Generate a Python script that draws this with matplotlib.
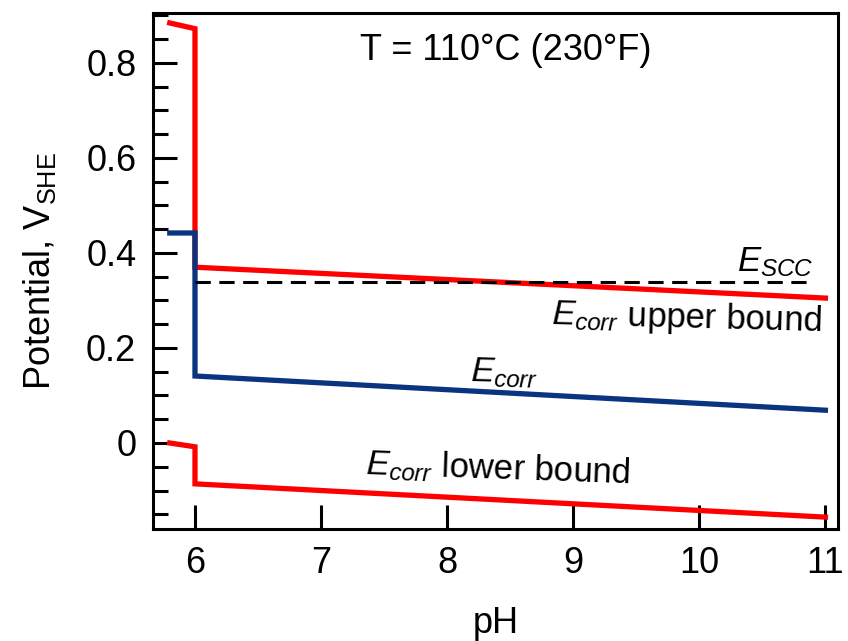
import numpy as np
import matplotlib
matplotlib.use('Agg')
import matplotlib.pyplot as plt
from matplotlib.ticker import MultipleLocator

plt.rcParams['font.family'] = ['Liberation Sans', 'DejaVu Sans']
plt.rcParams['mathtext.fontset'] = 'custom'
plt.rcParams['mathtext.rm'] = 'Liberation Sans'
plt.rcParams['mathtext.it'] = 'Liberation Sans:italic'

# Data
upper_ph = [5.8, 6.0, 6.0, 11.0]
upper_e = [0.884, 0.872, 0.370, 0.305]
ecorr_ph = [5.8, 6.0, 6.0, 11.0]
ecorr_e = [0.442, 0.442, 0.141, 0.069]
lower_ph = [5.8, 6.0, 6.0, 11.0]
lower_e = [0.0, -0.008, -0.086, -0.156]
escc_ph = [6.0, 10.87]
escc_e = [0.339, 0.339]

fig = plt.figure(figsize=(8.48, 6.41), dpi=100)
ax = fig.add_axes([153/848, 112/641, 685/848, 516/641])

red = '#ff0000'
blue = '#0a3380'
ax.plot(upper_ph, upper_e, color=red, lw=3.8, solid_joinstyle='miter')
ax.plot(ecorr_ph, ecorr_e, color=blue, lw=3.8, solid_joinstyle='miter')
ax.plot(lower_ph, lower_e, color=red, lw=3.8, solid_joinstyle='miter')
ax.plot(escc_ph, escc_e, color='black', lw=2.2, dashes=(5, 2.8))

ax.set_xlim(5.667, 11.10)
ax.set_ylim(-0.181, 0.905)

ax.xaxis.set_major_locator(MultipleLocator(1))
ax.yaxis.set_major_locator(MultipleLocator(0.2))
ax.yaxis.set_minor_locator(MultipleLocator(0.05))
ax.yaxis.set_major_formatter(plt.FuncFormatter(lambda v, p: '0' if abs(v) < 1e-9 else f'{v:.1f}'))

for s in ax.spines.values():
    s.set_linewidth(2.2)
ax.tick_params(axis='both', which='major', direction='in', length=17, width=2.2,
               labelsize=26, pad=12)
ax.tick_params(axis='y', which='minor', direction='in', length=11, width=2.2)
ax.tick_params(top=False, right=False)

ax.set_xlabel('pH', fontsize=26, labelpad=18)
ax.set_ylabel(r'Potential, V$_{\mathrm{SHE}}$', fontsize=26, labelpad=20)

fig.text(506/848, 1 - 51/641, 'T = 110°C (230°F)',
         ha='center', va='center', fontsize=26)
ax.text(10.6, 0.38, r'$E_{SCC}$', ha='center', va='center', fontsize=25)
ax.text(9.9, 0.262, r'$E_{corr}$ upper bound', ha='center', va='center',
        fontsize=25, rotation=-1.5)
ax.text(8.45, 0.147, r'$E_{corr}$', ha='center', va='center', fontsize=25, rotation=-1.5)
ax.text(8.4, -0.055, r'$E_{corr}$ lower bound', ha='center', va='center',
        fontsize=25, rotation=-2)

fig.savefig('out.png', dpi=100)
